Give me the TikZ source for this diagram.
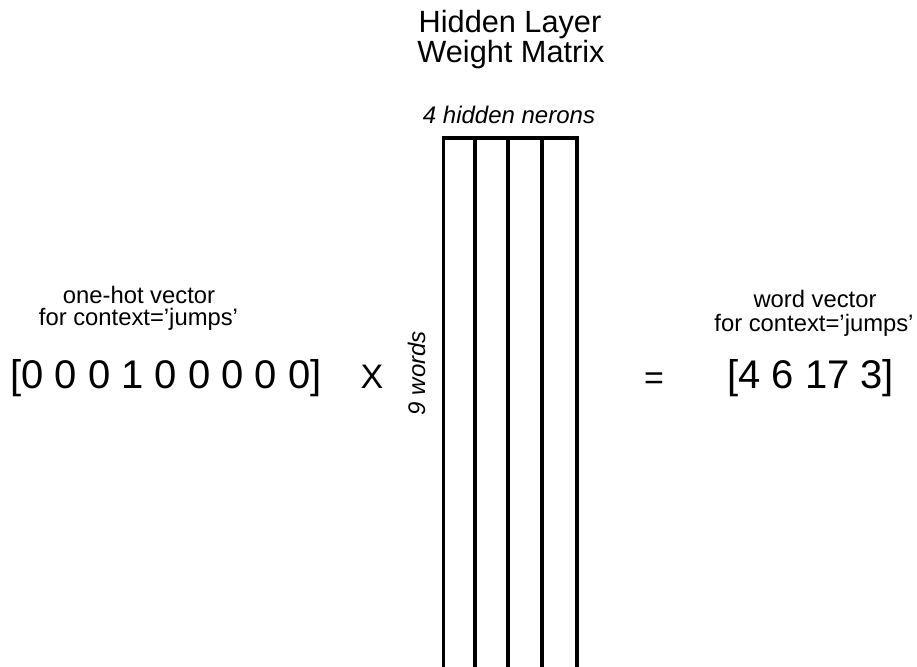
\documentclass[tikz,border=0pt]{standalone}
\usepackage{fontspec}
\setmainfont{Liberation Sans}
\begin{document}
\begin{tikzpicture}[x=1pt,y=-1pt,
  title/.style={inner sep=0pt, anchor=base, font=\fontsize{30.7}{30.7}\selectfont},
  lbl/.style={inner sep=0pt, anchor=base, font=\fontsize{23.8}{23.8}\selectfont},
  ital/.style={inner sep=0pt, anchor=base, font=\fontsize{24}{24}\selectfont\itshape},
  vec/.style={inner sep=0pt, anchor=base west, font=\fontsize{40}{40}\selectfont},
  op/.style={inner sep=0pt, anchor=base, font=\fontsize{34}{34}\selectfont},
  mat/.style={line width=3.5pt, draw=black}]
\useasboundingbox (0,0) rectangle (917,666);
\fill[white] (0,0) rectangle (917,666);
\begin{scope}
\clip (0,0) rectangle (917,666);
\draw[mat] (443.5,138) rectangle (577,675);
\foreach \x/\n in {475/a,508/b,542/c} \draw[mat] (\x,138) coordinate (top\n) -- (\x,675) coordinate (bot\n);
\end{scope}
\node[title] (t1) at (510,33) {Hidden Layer};
\node[title] (t2) at (511,63) {Weight Matrix};
\node[ital] (hn) at (509,123) {4 hidden nerons};
\node[ital, rotate=90] (nw) at (425,373) {9 words};
\node[lbl] (l1) at (139,303) {one-hot vector};
\node[lbl] (l2) at (138.5,325) {for context=’jumps’};
\node[vec] (v1) at (10,388) {[0 0 0 1 0 0 0 0 0]};
\node[op] (x) at (372,388) {X};
\node[op] (eq) at (654,389) {=};
\node[lbl] (r1) at (815,307) {word vector};
\node[lbl] (r2) at (814,331) {for context=’jumps’};
\node[vec] (v2) at (727,388) {[4 6 17 3]};
\end{tikzpicture}
\end{document}
